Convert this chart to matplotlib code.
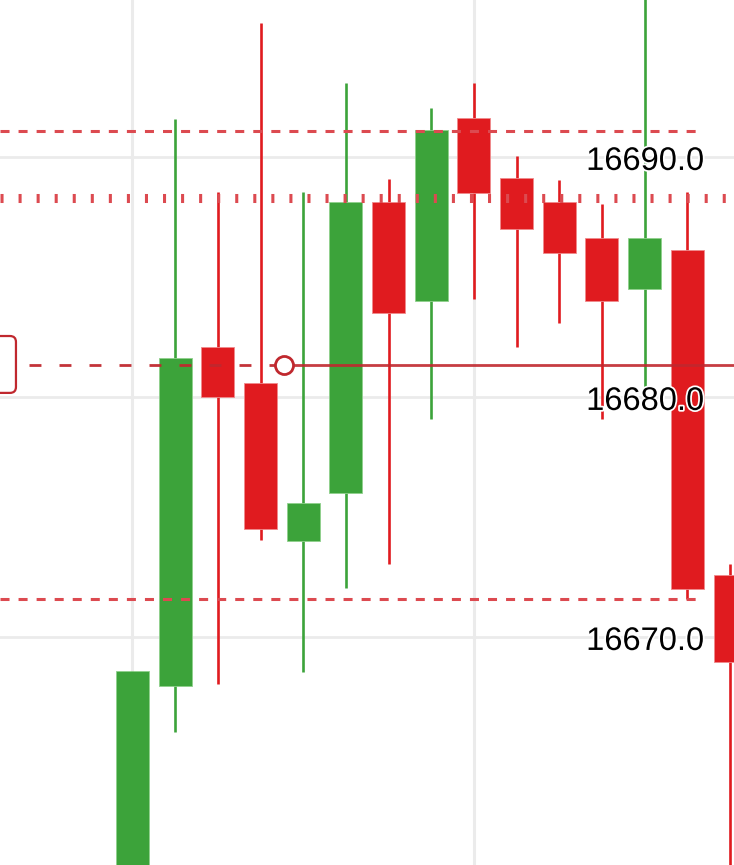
import matplotlib
matplotlib.use('Agg')
import matplotlib.pyplot as plt
import matplotlib.patheffects as pe
from matplotlib.patches import FancyBboxPatch
import numpy as np

# candle data
opens = [16659.0, 16667.96, 16682.08, 16680.58, 16674.0, 16676.0, 16688.12, 16684.0,
         16691.62, 16689.12, 16688.12, 16686.62, 16684.5, 16686.12, 16672.58]
highs = [16668.58, 16691.58, 16688.54, 16695.58, 16688.54, 16693.08, 16689.08, 16692.04,
         16693.08, 16690.04, 16689.04, 16688.04, 16697.5, 16688.54, 16673.04]
lows = [16658.0, 16666.04, 16668.04, 16674.04, 16668.54, 16672.04, 16673.04, 16679.08,
        16684.08, 16682.08, 16683.08, 16679.08, 16680.42, 16671.58, 16659.0]
closes = [16668.58, 16681.63, 16680.0, 16674.5, 16675.58, 16688.12, 16683.5, 16691.12,
          16688.5, 16687.0, 16686.0, 16684.0, 16686.62, 16672.0, 16668.96]

# horizontal levels
upper_dash = 16691.08
dotted_level = 16688.29
lower_dash = 16671.58
price_line = 16681.33
tick_values = [16690.0, 16680.0, 16670.0]
vgrid_idx = [0, 8]

GREEN = '#3ca33a'
RED = '#e01b1f'
LINE_RED = '#c0282e'
DASH_RED = '#dc4a50'

plt.rcParams['lines.scale_dashes'] = False
fig = plt.figure(figsize=(7.34, 8.65), dpi=100)
ax = fig.add_axes([0, 0, 1, 1])
ax.set_xlim(-3.104, 14.093)
ax.set_ylim(16660.5, 16696.54)
ax.axis('off')

# grid
for v in tick_values:
    ax.axhline(v, color='#ebebeb', lw=2.0, zorder=0)
for i in vgrid_idx:
    ax.axvline(i, color='#ebebeb', lw=2.2, zorder=0)

x = np.arange(len(opens))
o = np.array(opens)
c = np.array(closes)
up = c >= o
colors = np.where(up, GREEN, RED)
edges = np.where(up, '#8fd08c', '#f08a8c')

ax.vlines(x, lows, highs, colors=colors, lw=1.9, zorder=2)
ax.bar(x, np.abs(c - o), bottom=np.minimum(o, c), width=0.773,
       color=colors, edgecolor=edges, linewidth=0.6, zorder=3)

# level lines
ax.plot([-3.104, 13.39], [upper_dash, upper_dash], color=DASH_RED, lw=2.2,
        linestyle=(0, (6.5, 6.5)), zorder=4)
ax.plot([-3.104, 13.39], [lower_dash, lower_dash], color=DASH_RED, lw=2.2,
        linestyle=(0, (6.5, 6.5)), zorder=4)
ax.plot([-3.104, 14.093], [dotted_level, dotted_level], color=DASH_RED, lw=6.5,
        linestyle=(0, (2.2, 10.8)), solid_capstyle='butt', dash_capstyle='butt', zorder=4)

# current price line: dashed left of the marker, solid right of it
ax.plot([-2.42, 3.34], [price_line, price_line], color=LINE_RED, lw=2.0,
        linestyle=(0, (8.6, 13.0)), dash_capstyle='butt', alpha=0.95, zorder=4)
ax.plot([3.55, 14.093], [price_line, price_line], color=LINE_RED, lw=2.0,
        alpha=0.9, zorder=4)
ax.plot([3.55], [price_line], marker='o', markersize=13, markerfacecolor='white',
        markeredgecolor=LINE_RED, markeredgewidth=2.0, zorder=5)

# label box peeking in from the left
box = FancyBboxPatch((-3.7, 16680.17), 0.97, 2.37,
                     boxstyle='round,pad=0,rounding_size=0.14',
                     facecolor='white', edgecolor=LINE_RED, lw=1.6, zorder=5,
                     mutation_aspect=1.78)
ax.add_patch(box)

# price labels
for v in tick_values:
    ax.text(0.959, v - 0.54, f'{v:.1f}', transform=ax.get_yaxis_transform(),
            ha='right', va='baseline', fontsize=23.5, family='Liberation Sans',
            color='black', zorder=6,
            path_effects=[pe.withStroke(linewidth=2.5, foreground='white')])

plt.savefig('out.png', dpi=100)
